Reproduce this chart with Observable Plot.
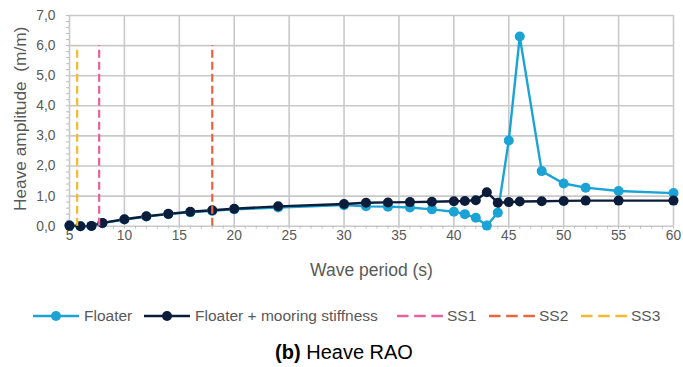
<!DOCTYPE html>
<html>
<head>
<meta charset="utf-8">
<script src="https://cdn.jsdelivr.net/npm/d3@7"></script>
<script src="https://cdn.jsdelivr.net/npm/@observablehq/plot@0.6"></script>
<style>
  body { margin: 0; background: #fff; font-family: Arial, "Liberation Sans", sans-serif; }
  #wrap { position: relative; width: 683px; height: 367px; }
  .sw { position: absolute; top: 309px; }
  .lt { position: absolute; top: 306px; line-height: 20px; font-size: 15.5px; color: #595959; white-space: nowrap; }
  #cap { position: absolute; top: 340px; left: 0; width: 683px; padding-left: 5px; box-sizing: border-box; text-align: center; font-size: 20px; line-height: 24px; color: #000; }
</style>
</head>
<body>
<div id="wrap"></div>
<script>
const periods = [5, 6, 7, 8, 10, 12, 14, 16, 18, 20, 24, 30, 32, 34, 36, 38, 40, 41, 42, 43, 44, 45, 46, 48, 50, 52, 55, 60];
const floater = [0.02, 0.0, 0.01, 0.1, 0.22, 0.32, 0.4, 0.46, 0.51, 0.56, 0.62, 0.7, 0.66, 0.65, 0.62, 0.56, 0.48, 0.4, 0.28, 0.02, 0.45, 2.85, 6.3, 1.83, 1.42, 1.28, 1.17, 1.1];
const mooring = [0.02, 0.0, 0.01, 0.11, 0.23, 0.33, 0.41, 0.48, 0.53, 0.58, 0.66, 0.74, 0.78, 0.79, 0.8, 0.81, 0.83, 0.84, 0.86, 1.13, 0.78, 0.8, 0.82, 0.83, 0.84, 0.85, 0.85, 0.85];
const seaStates = ["SS1", "SS2", "SS3"];
const seaStatePeriods = [7.7, 18, 5.7];
const seaStateTop = 6.0;
const seriesNames = ["Floater", "Floater + mooring stiffness"];
const xTicks = [5, 10, 15, 20, 25, 30, 35, 40, 45, 50, 55, 60];
const yTicks = [0, 1, 2, 3, 4, 5, 6, 7];

const colors = {
  "Floater": "#1aa3d4",
  "Floater + mooring stiffness": "#0b1d3a",
  "SS1": "#e95f9f",
  "SS2": "#e9663c",
  "SS3": "#f6b92d"
};

const lineData = [];
periods.forEach((p, i) => {
  lineData.push({series: seriesNames[0], x: p, y: floater[i]});
  lineData.push({series: seriesNames[1], x: p, y: mooring[i]});
});
const ssData = seaStates.map((s, i) => ({series: s, x: seaStatePeriods[i], y1: 0, y2: seaStateTop}));
const comma = d => d3.format(".1f")(d).replace(".", ",");
const grid = "#c9c9c9";
const txt = "#595959";

const chart = Plot.plot({
  width: 683,
  height: 285,
  marginLeft: 69,
  marginRight: 10,
  marginTop: 15,
  marginBottom: 59.3,
  style: {fontFamily: "Arial, 'Liberation Sans', sans-serif", fontSize: "13.5px", color: txt, background: "#fff"},
  x: {domain: [5, 60]},
  y: {domain: [0, 7]},
  marks: [
    Plot.ruleX(xTicks, {stroke: grid, strokeWidth: 1.6}),
    Plot.ruleY(yTicks, {stroke: grid, strokeWidth: 1.6}),
    Plot.axisX(d3.range(5, 61, 1), {tickSize: 3, tickPadding: 0, text: null, stroke: "#bdbdbd", label: null}),
    Plot.axisY(d3.range(0, 7.01, 0.2), {tickSize: 3, text: null, stroke: "#bdbdbd", label: null}),
    Plot.axisX(xTicks, {tickSize: 0, tickPadding: 4, fill: txt, fontSize: 13.8, label: null}),
    Plot.axisY(yTicks, {tickSize: 0, tickPadding: 14, fill: txt, fontSize: 13.8, tickFormat: comma, label: null}),
    Plot.text(["Wave period (s)"], {frameAnchor: "bottom", dy: 44.5, fill: txt, fontSize: 17.5, lineAnchor: "middle"}),
    Plot.text(["Heave amplitude\u00a0\u00a0(m/m)"], {frameAnchor: "left", dx: -49, dy: -2, rotate: -90, fill: txt, fontSize: 17.3, lineAnchor: "middle", textAnchor: "middle"}),
    Plot.line(lineData, {x: "x", y: "y", z: "series", stroke: d => colors[d.series], strokeWidth: 2.4}),
    Plot.dot(lineData, {x: "x", y: "y", fill: d => colors[d.series], r: 5}),
    Plot.ruleX(ssData, {x: "x", y1: "y1", y2: "y2", stroke: d => colors[d.series], strokeWidth: 2.2, strokeDasharray: "8,4"})
  ]
});
const wrap = document.getElementById("wrap");
wrap.appendChild(chart);

function swatch(color, dashed) {
  const w = 46;
  let s = `<svg width="${w}" height="14" viewBox="0 0 ${w} 14" style="display:block">`;
  if (dashed) s += `<line x1="0" y1="7" x2="${w}" y2="7" stroke="${color}" stroke-width="2.6" stroke-dasharray="11.5,5.7"/>`;
  else s += `<line x1="0" y1="7" x2="${w}" y2="7" stroke="${color}" stroke-width="2.6"/><circle cx="${w/2}" cy="7" r="5" fill="${color}"/>`;
  return s + "</svg>";
}
const legendItems = [
  {name: seriesNames[0], sw: 33, tx: 84, dashed: false},
  {name: seriesNames[1], sw: 144, tx: 195, dashed: false},
  {name: seaStates[0], sw: 397, tx: 447, dashed: true},
  {name: seaStates[1], sw: 489, tx: 539, dashed: true},
  {name: seaStates[2], sw: 581, tx: 631, dashed: true}
];
legendItems.forEach(it => {
  const s = document.createElement("div");
  s.className = "sw";
  s.style.left = it.sw + "px";
  s.innerHTML = swatch(colors[it.name], it.dashed);
  wrap.appendChild(s);
  const t = document.createElement("div");
  t.className = "lt";
  t.style.left = it.tx + "px";
  t.textContent = it.name;
  wrap.appendChild(t);
});
const cap = document.createElement("div");
cap.id = "cap";
cap.innerHTML = "<b>(b)</b> Heave RAO";
wrap.appendChild(cap);
</script>
</body>
</html>
